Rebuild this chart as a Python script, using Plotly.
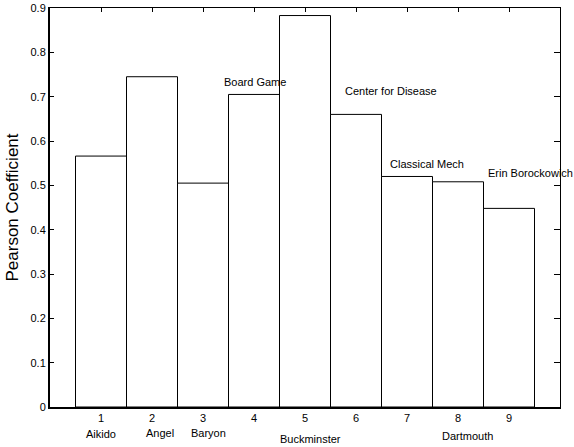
import plotly.graph_objects as go

# Data
positions = [1, 2, 3, 4, 5, 6, 7, 8, 9]
pearson = [0.566, 0.745, 0.505, 0.705, 0.883, 0.66, 0.52, 0.508, 0.448]
y_ticks = [0, 0.1, 0.2, 0.3, 0.4, 0.5, 0.6, 0.7, 0.8, 0.9]
y_tick_labels = ["0", "0.1", "0.2", "0.3", "0.4", "0.5", "0.6", "0.7", "0.8", "0.9"]
Y_MAX = 0.9

# Label texts (in-plot and below axis), positions in data units
inner_labels = ["Board Game", "Center for Disease", "Classical Mech", "Erin Borockowich"]
inner_label_x = [3.37, 5.74, 6.62, 8.54]
inner_label_y = [0.733, 0.712, 0.548, 0.527]
bottom_labels = ["Aikido", "Angel", "Baryon", "Buckminster", "Dartmouth"]
bottom_label_x = [1.0, 2.16, 3.11, 5.1, 8.18]
bottom_label_y = [-0.0614, -0.0585, -0.0585, -0.0713, -0.0653]

FONT = "Liberation Sans, Arial, sans-serif"

fig = go.Figure()
fig.add_trace(go.Bar(
    x=positions, y=pearson, width=1,
    marker=dict(color="white", line=dict(color="black", width=1)),
    showlegend=False, hoverinfo="skip",
))

annotations = []
for t, x, y in zip(inner_labels, inner_label_x, inner_label_y):
    annotations.append(dict(x=x, y=y, xref="x", yref="y", text=t, showarrow=False,
                            xanchor="left", yanchor="middle",
                            font=dict(family=FONT, size=11, color="black")))
for t, x, y in zip(bottom_labels, bottom_label_x, bottom_label_y):
    annotations.append(dict(x=x, y=y / Y_MAX, xref="x", yref="paper", text=t, showarrow=False,
                            xanchor="center", yanchor="middle",
                            font=dict(family=FONT, size=11, color="black")))

fig.update_layout(
    width=574, height=447,
    margin=dict(l=50, r=14, t=8, b=40),
    paper_bgcolor="white", plot_bgcolor="white",
    font=dict(family=FONT, size=11, color="black"),
    annotations=annotations,
    xaxis=dict(range=[0, 10], tickvals=positions, ticktext=[str(p) for p in positions],
               ticks="", showgrid=False, zeroline=False, showline=True, automargin=False,
               linecolor="black", linewidth=2, tickfont=dict(size=11)),
    xaxis2=dict(range=[0, 10], overlaying="x", side="top", tickvals=positions, automargin=False,
                ticks="inside", ticklen=4, tickcolor="black", showticklabels=False,
                showgrid=False, zeroline=False, showline=True, linecolor="black", linewidth=1),
    yaxis=dict(range=[0, Y_MAX], tickvals=y_ticks, ticktext=y_tick_labels, automargin=False,
               ticks="inside", ticklen=4, tickcolor="black", showgrid=False, zeroline=False,
               showline=True, linecolor="black", linewidth=2,
               title=dict(text="Pearson Coefficient", font=dict(size=17), standoff=8),
               tickfont=dict(size=11)),
    yaxis2=dict(range=[0, Y_MAX], overlaying="y", side="right", tickvals=y_ticks, automargin=False,
                ticks="inside", ticklen=6, tickcolor="black", showticklabels=False,
                showgrid=False, zeroline=False, showline=True, linecolor="black", linewidth=1),
)
# invisible trace to activate the mirrored axes
fig.add_trace(go.Scatter(x=[None], y=[None], xaxis="x2", yaxis="y2", showlegend=False))

fig.write_html("out.html", post_script="document.body.style.margin='0px';",
               config={"displayModeBar": False})
